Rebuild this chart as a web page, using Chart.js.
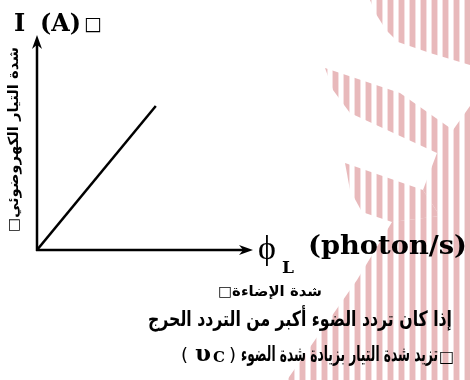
<!DOCTYPE html>
<html>
<head>
<meta charset="utf-8">
<script src="https://cdn.jsdelivr.net/npm/chart.js@4.4.1/dist/chart.umd.min.js"></script>
<style>
  html, body { margin: 0; padding: 0; background: #fff; }
  #wrap { width: 470px; height: 380px; }
</style>
</head>
<body>
<div id="wrap"><canvas id="chart" width="470" height="380"></canvas></div>
<script>
/* DATA */
const phi = [0, 5.5];       // light intensity (photon/s)
const current = [0, 6.7];   // photocurrent I (A)
const axisMax = [10, 10];   // x, y range of the sketch

/* LABELS */
const yTitle = "I";
const yUnit = "(A)";
const box = "□";
const yArabic = "شدة التيار الكهروضوئي□";
const xSymbol = "ϕ";
const xSub = "L";
const xUnit = "(photon/s)";
const xArabic = "شدة الإضاءة□";
const note1 = "إذا كان تردد الضوء أكبر من التردد الحرج";
const note2 = "تزيد شدة التيار بزيادة شدة الضوء";
const noteSym = "υ";
const noteSub = "C";

const AR = '"DejaVu Sans", sans-serif';
const SERIF = '"DejaVu Serif", serif';

/* draw text squeezed/stretched to a given width, left edge at x */
function fitText(ctx, text, x, y, width, font, dir) {
  ctx.save();
  ctx.font = font;
  ctx.direction = dir || "ltr";
  ctx.textAlign = "left";
  const w = ctx.measureText(text).width;
  ctx.translate(x, y);
  ctx.scale(width / w, 1);
  ctx.fillText(text, 0, 0);
  ctx.restore();
}

/* striped background pattern */
function stripePattern(ctx) {
  const tile = document.createElement("canvas");
  tile.width = 11; tile.height = 4;
  const t = tile.getContext("2d");
  t.fillStyle = "rgba(232,186,188,0.45)";
  t.fillRect(2, 0, 1, 4);
  t.fillRect(8, 0, 1, 4);
  t.fillStyle = "#e8b9bb";
  t.fillRect(3, 0, 5, 4);
  return ctx.createPattern(tile, "repeat");
}

const stripeShapes = [
  [[370,0],[470,0],[470,65],[430,53],[398,42],[386,30],[376,14]],
  [[325,68],[400,93],[453,130],[470,106],[470,380],[287,380],[357,280],[392,222],
   [440,216],[423,190],[437,153],[350,113],[333,90]],
  [[345,163],[423,190],[440,216],[392,222],[362,212],[350,190]]
];

const background = {
  id: "background",
  beforeDraw(chart) {
    const ctx = chart.ctx;
    ctx.save();
    ctx.fillStyle = "#fff";
    ctx.fillRect(0, 0, chart.width, chart.height);
    ctx.fillStyle = stripePattern(ctx);
    stripeShapes.forEach(poly => {
      ctx.beginPath();
      poly.forEach((p, i) => i ? ctx.lineTo(p[0], p[1]) : ctx.moveTo(p[0], p[1]));
      ctx.closePath();
      ctx.fill();
    });
    ctx.restore();
  }
};

/* AXES WITH ARROWS */
function arrowHead(ctx, tx, ty, dx, dy) {
  const len = 14, half = 5;
  const bx = tx - dx * len, by = ty - dy * len;
  ctx.beginPath();
  ctx.moveTo(tx, ty);
  ctx.lineTo(bx - dy * half, by + dx * half);
  ctx.lineTo(tx - dx * len * 0.7, ty - dy * len * 0.7);
  ctx.lineTo(bx + dy * half, by - dx * half);
  ctx.closePath();
  ctx.fill();
}

const axesArrows = {
  id: "axesArrows",
  beforeDatasetsDraw(chart) {
    const { ctx, scales } = chart;
    const x0 = scales.x.getPixelForValue(0);
    const y0 = scales.y.getPixelForValue(0);
    const xEnd = scales.x.getPixelForValue(axisMax[0]);
    const yEnd = scales.y.getPixelForValue(axisMax[1]);
    ctx.save();
    ctx.strokeStyle = "#000";
    ctx.fillStyle = "#000";
    ctx.lineWidth = 2.5;
    ctx.beginPath();
    ctx.moveTo(x0, y0 + 1);
    ctx.lineTo(x0, yEnd + 8);
    ctx.moveTo(x0 - 1, y0);
    ctx.lineTo(xEnd - 8, y0);
    ctx.stroke();
    arrowHead(ctx, x0, yEnd, 0, -1);
    arrowHead(ctx, xEnd, y0, 1, 0);
    ctx.restore();
  }
};

/* LABELS AND NOTE */
const labels = {
  id: "labels",
  afterDraw(chart) {
    const ctx = chart.ctx;
    ctx.save();
    ctx.fillStyle = "#000";
    ctx.textBaseline = "alphabetic";

    // y-axis title
    ctx.font = "bold 24px " + SERIF;
    ctx.fillText(yTitle, 14, 31);
    fitText(ctx, yUnit, 40, 31, 41, "bold 24px " + SERIF);
    ctx.font = "19px " + AR;
    ctx.fillText(box, 84, 30);

    // rotated arabic y label
    ctx.save();
    ctx.translate(18, 232);
    ctx.rotate(-Math.PI / 2);
    fitText(ctx, yArabic, 0, 0, 185, "bold 14px " + AR, "rtl");
    ctx.restore();

    // x-axis title
    ctx.font = "34px " + '"Liberation Serif", serif';
    ctx.fillText(xSymbol, 258, 259);
    ctx.font = "bold 17px " + SERIF;
    ctx.fillText(xSub, 282, 273);
    fitText(ctx, xUnit, 308, 254, 159, "bold 26px " + SERIF);

    // arabic x label
    fitText(ctx, xArabic, 218, 296, 104, "bold 14px " + AR, "rtl");

    // note lines
    fitText(ctx, note1, 148, 326, 304, "bold 21px " + AR, "rtl");
    ctx.font = "18px " + AR;
    ctx.fillText("(", 181, 361);
    ctx.font = "bold 23px " + SERIF;
    ctx.fillText(noteSym, 195, 361);
    ctx.font = "bold 15px " + SERIF;
    ctx.fillText(noteSub, 213, 362);
    ctx.font = "18px " + AR;
    ctx.fillText(")", 229, 361);
    fitText(ctx, note2, 241, 361, 197, "bold 21px " + AR, "rtl");
    ctx.font = "16px " + AR;
    ctx.fillText(box, 439, 362);
    ctx.restore();
  }
};

/* RENDER CHART */
new Chart(document.getElementById("chart"), {
  type: "line",
  data: {
    datasets: [{
      data: phi.map((v, i) => ({ x: v, y: current[i] })),
      borderColor: "#000",
      borderWidth: 2.5,
      pointRadius: 0,
      tension: 0
    }]
  },
  options: {
    responsive: false,
    animation: false,
    layout: { padding: { left: 37, top: 35, right: 217, bottom: 130 } },
    plugins: { legend: { display: false }, tooltip: { enabled: false } },
    scales: {
      x: { type: "linear", min: 0, max: axisMax[0], display: false },
      y: { type: "linear", min: 0, max: axisMax[1], display: false }
    }
  },
  plugins: [background, axesArrows, labels]
});
</script>
</body>
</html>
